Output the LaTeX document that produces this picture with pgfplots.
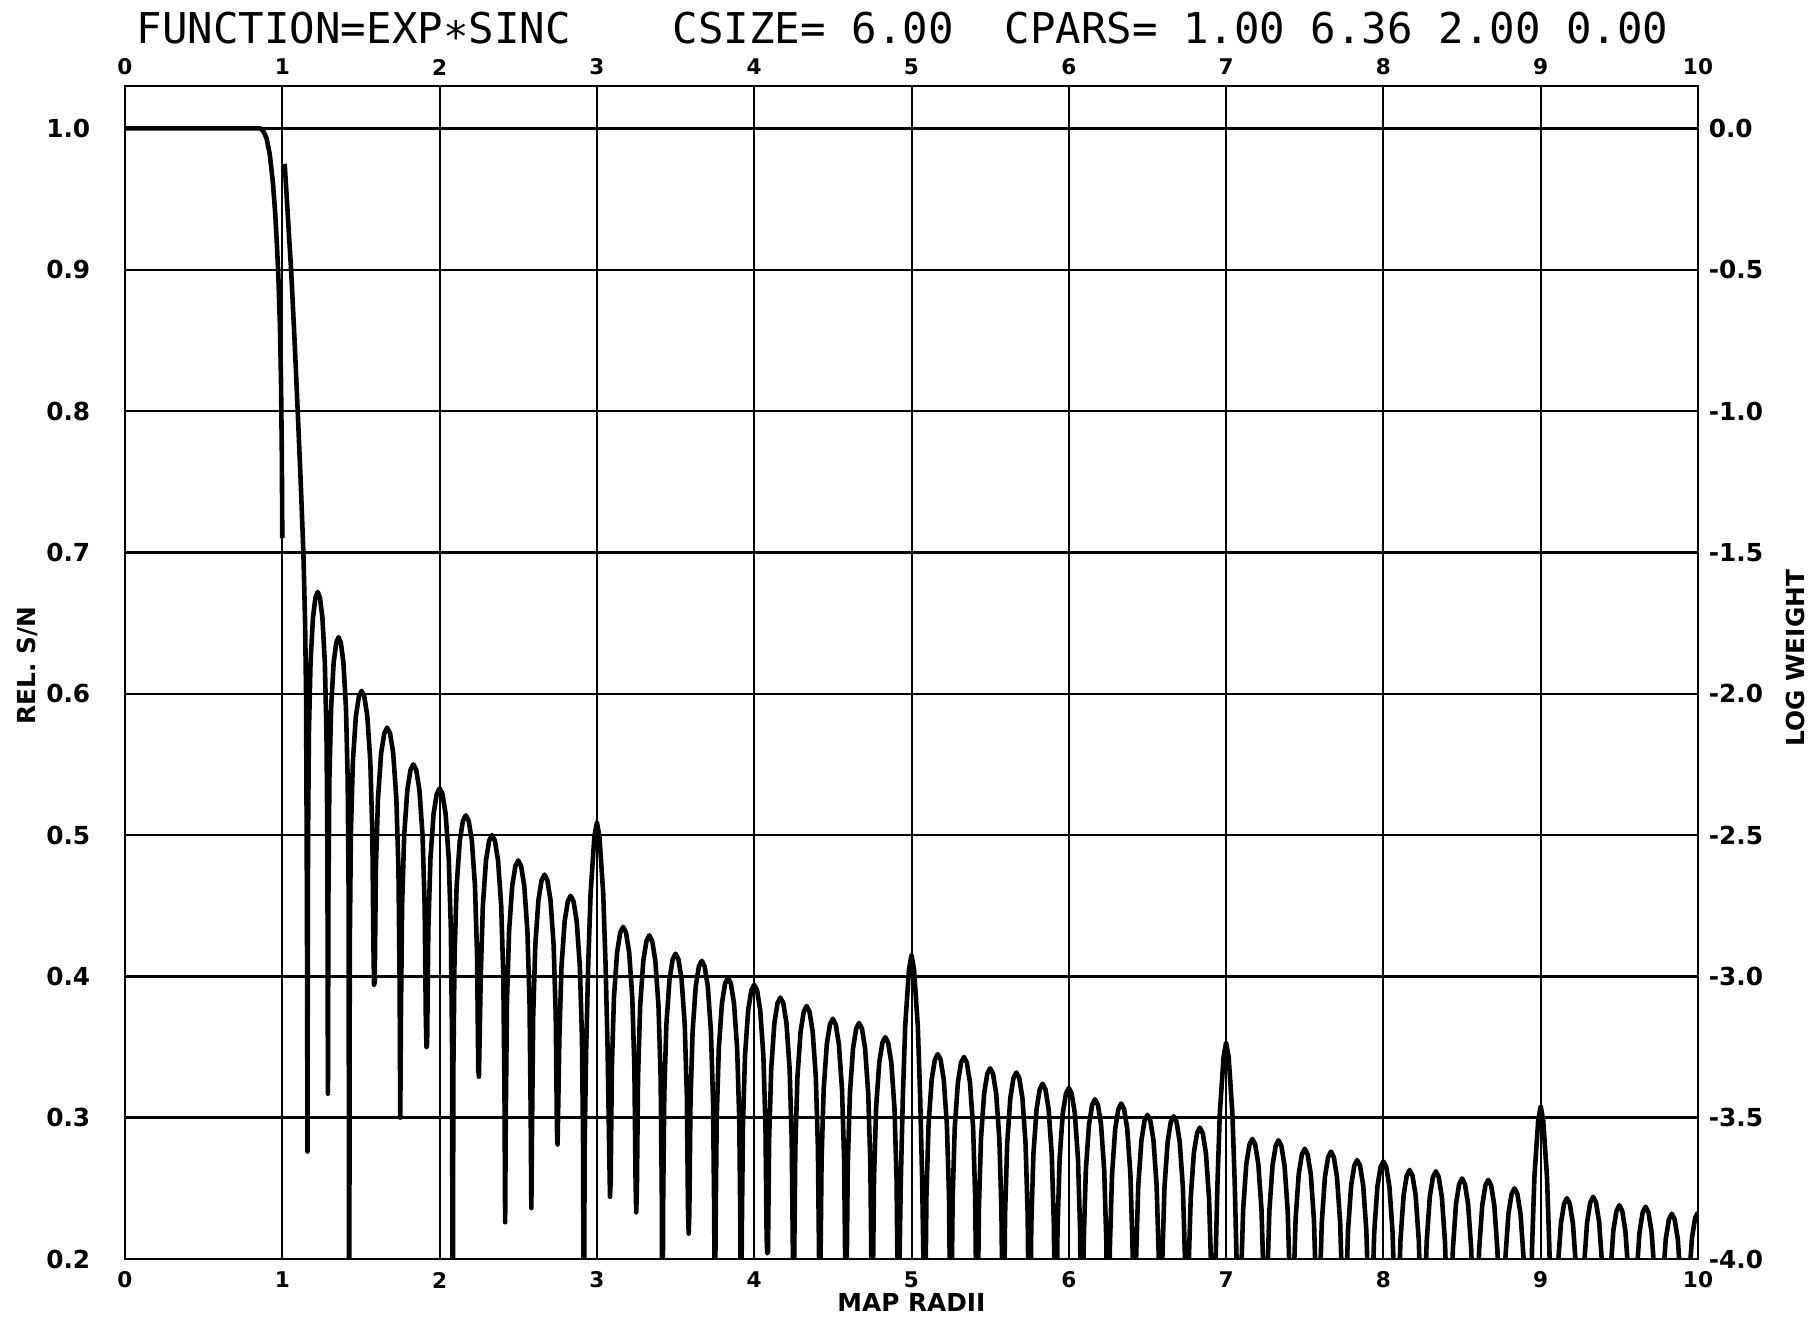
\documentclass[border=0pt]{standalone}
\usepackage{pgfplots}
\pgfplotsset{compat=1.18}
\usepackage{fontspec}
\setmainfont{DejaVu Sans}
\newfontfamily\titlefont{DejaVu Sans Mono}
\newcommand\lrfont{\fontsize{6.2}{7}\selectfont\bfseries}
\newcommand\tbfont{\fontsize{5.4}{6}\selectfont\bfseries}
\begin{document}
\begin{tikzpicture}
\path[use as bounding box] (-31.25pt,-14.75pt) rectangle (421.75pt,314.75pt);
\begin{axis}[
  at={(0,0)}, anchor=south west,
  scale only axis, width=393.25pt, height=293.25pt,
  xmin=0, xmax=10, ymin=0.2, ymax=1.03,
  xtick={0,1,2,3,4,5,6,7,8,9,10},
  xticklabels={0,1,2,3,4,5,6,7,8,9,10},
  ytick={0.2,0.3,0.4,0.5,0.6,0.7,0.8,0.9,1.0},
  yticklabels={0.2,0.3,0.4,0.5,0.6,0.7,0.8,0.9,1.0},
  grid=major,
  x grid style={black, line width=0.5pt},
  y grid style={black, line width=0.6pt},
  major tick length=0pt, tick style={draw=none},
  axis line style={black, line width=0.7pt},
  xticklabel style={font=\tbfont, anchor=center, inner sep=0pt, yshift=-5.25pt},
  yticklabel style={font=\lrfont, anchor=east, inner sep=0pt, xshift=-8.5pt},
  clip=true,
]
% REL. S/N curve
\addplot[black, line width=1.15pt, line join=round] coordinates {
(0,1.0) (0.86,1.0) (0.88,0.998) (0.90,0.993) (0.92,0.982) (0.94,0.962) (0.955,0.94) (0.967,0.915) (0.975,0.895) (0.985,0.86) (0.992,0.82) (0.997,0.77) (1.0,0.71)
};
% LOG WEIGHT curve (plotted on the left scale: left = 1 + logweight/5)
\addplot[black, line width=1.15pt, line join=round] coordinates {
(1.015,0.975) (1.03,0.948) (1.045,0.92) (1.056,0.9) (1.078,0.85) (1.098,0.8) (1.117,0.75) (1.134,0.7) (1.145,0.65) (1.151,0.6) (1.155,0.5) (1.158,0.4) (1.160,0.276)
(1.1633,0.492) (1.1691,0.572) (1.1795,0.622) (1.1951,0.654) (1.2107,0.668) (1.225,0.672) (1.2393,0.668) (1.2549,0.654) (1.2705,0.622) (1.2809,0.572) (1.2868,0.492) (1.29,0.317)
(1.2934,0.460) (1.2995,0.540) (1.3103,0.590) (1.3265,0.622) (1.3427,0.636) (1.3575,0.640) (1.3724,0.636) (1.3886,0.622) (1.4048,0.590) (1.4156,0.540) (1.4216,0.460) (1.425,0.1)
(1.4290,0.422) (1.4361,0.502) (1.4487,0.552) (1.4677,0.584) (1.4867,0.598) (1.5042,0.602) (1.5216,0.598) (1.5406,0.584) (1.5596,0.552) (1.5723,0.502) (1.5794,0.422) (1.5833,0.394)
(1.5875,0.396) (1.5950,0.476) (1.6084,0.526) (1.6284,0.558) (1.6484,0.572) (1.6667,0.576) (1.6850,0.572) (1.7050,0.558) (1.7250,0.526) (1.7384,0.476) (1.7459,0.396) (1.75,0.30)
(1.7541,0.370) (1.7616,0.450) (1.7750,0.500) (1.7950,0.532) (1.8150,0.546) (1.8333,0.550) (1.8516,0.546) (1.8716,0.532) (1.8916,0.500) (1.9050,0.450) (1.9125,0.370) (1.9167,0.350)
(1.9208,0.353) (1.9283,0.433) (1.9417,0.483) (1.9617,0.515) (1.9817,0.529) (2.0,0.533) (2.0183,0.529) (2.0383,0.515) (2.0583,0.483) (2.0717,0.433) (2.0792,0.353) (2.0833,0.1)
(2.0875,0.334) (2.0950,0.414) (2.1084,0.464) (2.1284,0.496) (2.1484,0.510) (2.1667,0.514) (2.1850,0.510) (2.2050,0.496) (2.2250,0.464) (2.2384,0.414) (2.2459,0.334) (2.25,0.329)
(2.2616,0.400) (2.2750,0.450) (2.2950,0.482) (2.3150,0.496) (2.3333,0.500) (2.3516,0.496) (2.3716,0.482) (2.3916,0.450) (2.4050,0.400) (2.4125,0.320) (2.4167,0.226)
(2.4208,0.302) (2.4283,0.382) (2.4417,0.432) (2.4617,0.464) (2.4817,0.478) (2.5,0.482) (2.5183,0.478) (2.5383,0.464) (2.5583,0.432) (2.5717,0.382) (2.5792,0.302) (2.5833,0.236)
(2.5875,0.292) (2.5950,0.372) (2.6084,0.422) (2.6284,0.454) (2.6484,0.468) (2.6667,0.472) (2.6850,0.468) (2.7050,0.454) (2.7250,0.422) (2.7384,0.372) (2.7459,0.292) (2.75,0.281)
(2.7616,0.357) (2.7750,0.407) (2.7950,0.439) (2.8150,0.453) (2.8333,0.457) (2.8516,0.453) (2.8716,0.439) (2.8916,0.407) (2.9050,0.357) (2.9125,0.277) (2.9167,0.1)
(2.922,0.279) (2.932,0.349) (2.945,0.409) (2.960,0.459) (2.984,0.499) (3.0,0.509) (3.016,0.499) (3.040,0.459) (3.055,0.409) (3.068,0.349) (3.078,0.279) (3.0833,0.244)
(3.0875,0.255) (3.0950,0.335) (3.1084,0.385) (3.1284,0.417) (3.1484,0.431) (3.1667,0.435) (3.1850,0.431) (3.2050,0.417) (3.2250,0.385) (3.2384,0.335) (3.2459,0.255) (3.25,0.233)
(3.2541,0.249) (3.2616,0.329) (3.2750,0.379) (3.2950,0.411) (3.3150,0.425) (3.3333,0.429) (3.3516,0.425) (3.3716,0.411) (3.3916,0.379) (3.4050,0.329) (3.4125,0.249) (3.4167,0.1)
(3.4208,0.236) (3.4283,0.316) (3.4417,0.366) (3.4617,0.398) (3.4817,0.412) (3.5,0.416) (3.5183,0.412) (3.5383,0.398) (3.5583,0.366) (3.5717,0.316) (3.5792,0.236) (3.5833,0.218)
(3.5875,0.231) (3.5950,0.311) (3.6084,0.361) (3.6284,0.393) (3.6484,0.407) (3.6667,0.411) (3.6850,0.407) (3.7050,0.393) (3.7250,0.361) (3.7384,0.311) (3.7459,0.231) (3.75,0.1)
(3.7541,0.219) (3.7616,0.299) (3.7750,0.349) (3.7950,0.381) (3.8150,0.395) (3.8333,0.399) (3.8516,0.395) (3.8716,0.381) (3.8916,0.349) (3.9050,0.299) (3.9125,0.219) (3.9167,0.1)
(3.9208,0.214) (3.9283,0.294) (3.9417,0.344) (3.9617,0.376) (3.9817,0.390) (4.0,0.394) (4.0183,0.390) (4.0383,0.376) (4.0583,0.344) (4.0717,0.294) (4.0792,0.214) (4.0833,0.204)
(4.0875,0.205) (4.0950,0.285) (4.1084,0.335) (4.1284,0.367) (4.1484,0.381) (4.1667,0.385) (4.1850,0.381) (4.2050,0.367) (4.2250,0.335) (4.2384,0.285) (4.2459,0.205) (4.25,0.1)
(4.2541,0.199) (4.2616,0.279) (4.2750,0.329) (4.2950,0.361) (4.3150,0.375) (4.3333,0.379) (4.3516,0.375) (4.3716,0.361) (4.3916,0.329) (4.4050,0.279) (4.4125,0.199) (4.4167,0.1)
(4.4208,0.190) (4.4283,0.270) (4.4417,0.320) (4.4617,0.352) (4.4817,0.366) (4.5,0.370) (4.5183,0.366) (4.5383,0.352) (4.5583,0.320) (4.5717,0.270) (4.5792,0.190) (4.5833,0.1)
(4.5875,0.187) (4.5950,0.267) (4.6084,0.317) (4.6284,0.349) (4.6484,0.363) (4.6667,0.367) (4.6850,0.363) (4.7050,0.349) (4.7250,0.317) (4.7384,0.267) (4.7459,0.187) (4.75,0.1)
(4.7541,0.177) (4.7616,0.257) (4.7750,0.307) (4.7950,0.339) (4.8150,0.353) (4.8333,0.357) (4.8516,0.353) (4.8716,0.339) (4.8916,0.307) (4.9050,0.257) (4.9125,0.177) (4.9167,0.1)
(4.922,0.185) (4.932,0.255) (4.945,0.315) (4.960,0.365) (4.984,0.405) (5.0,0.415) (5.016,0.405) (5.040,0.365) (5.055,0.315) (5.068,0.255) (5.078,0.185) (5.0833,0.1)
(5.0875,0.165) (5.0950,0.245) (5.1084,0.295) (5.1284,0.327) (5.1484,0.341) (5.1667,0.345) (5.1850,0.341) (5.2050,0.327) (5.2250,0.295) (5.2384,0.245) (5.2459,0.165) (5.25,0.1)
(5.2541,0.163) (5.2616,0.243) (5.2750,0.293) (5.2950,0.325) (5.3150,0.339) (5.3333,0.343) (5.3516,0.339) (5.3716,0.325) (5.3916,0.293) (5.4050,0.243) (5.4125,0.163) (5.4167,0.1)
(5.4208,0.155) (5.4283,0.235) (5.4417,0.285) (5.4617,0.317) (5.4817,0.331) (5.5,0.335) (5.5183,0.331) (5.5383,0.317) (5.5583,0.285) (5.5717,0.235) (5.5792,0.155) (5.5833,0.1)
(5.5875,0.152) (5.5950,0.232) (5.6084,0.282) (5.6284,0.314) (5.6484,0.328) (5.6667,0.332) (5.6850,0.328) (5.7050,0.314) (5.7250,0.282) (5.7384,0.232) (5.7459,0.152) (5.75,0.1)
(5.7541,0.144) (5.7616,0.224) (5.7750,0.274) (5.7950,0.306) (5.8150,0.320) (5.8333,0.324) (5.8516,0.320) (5.8716,0.306) (5.8916,0.274) (5.9050,0.224) (5.9125,0.144) (5.9167,0.1)
(5.9208,0.141) (5.9283,0.221) (5.9417,0.271) (5.9617,0.303) (5.9817,0.317) (6.0,0.321) (6.0183,0.317) (6.0383,0.303) (6.0583,0.271) (6.0717,0.221) (6.0792,0.141) (6.0833,0.1)
(6.0875,0.133) (6.0950,0.213) (6.1084,0.263) (6.1284,0.295) (6.1484,0.309) (6.1667,0.313) (6.1850,0.309) (6.2050,0.295) (6.2250,0.263) (6.2384,0.213) (6.2459,0.133) (6.25,0.1)
(6.2541,0.130) (6.2616,0.210) (6.2750,0.260) (6.2950,0.292) (6.3150,0.306) (6.3333,0.310) (6.3516,0.306) (6.3716,0.292) (6.3916,0.260) (6.4050,0.210) (6.4125,0.130) (6.4167,0.1)
(6.4208,0.122) (6.4283,0.202) (6.4417,0.252) (6.4617,0.284) (6.4817,0.298) (6.5,0.302) (6.5183,0.298) (6.5383,0.284) (6.5583,0.252) (6.5717,0.202) (6.5792,0.122) (6.5833,0.1)
(6.5875,0.121) (6.5950,0.201) (6.6084,0.251) (6.6284,0.283) (6.6484,0.297) (6.6667,0.301) (6.6850,0.297) (6.7050,0.283) (6.7250,0.251) (6.7384,0.201) (6.7459,0.121) (6.75,0.1)
(6.7616,0.193) (6.7750,0.243) (6.7950,0.275) (6.8150,0.289) (6.8333,0.293) (6.8516,0.289) (6.8716,0.275) (6.8916,0.243) (6.9050,0.193) (6.9167,0.1)
(6.932,0.193) (6.945,0.253) (6.960,0.303) (6.984,0.343) (7.0,0.353) (7.016,0.343) (7.040,0.303) (7.055,0.253) (7.068,0.193) (7.0833,0.1)
(7.0950,0.185) (7.1084,0.235) (7.1284,0.267) (7.1484,0.281) (7.1667,0.285) (7.1850,0.281) (7.2050,0.267) (7.2250,0.235) (7.2384,0.185) (7.25,0.1)
(7.2616,0.184) (7.2750,0.234) (7.2950,0.266) (7.3150,0.280) (7.3333,0.284) (7.3516,0.280) (7.3716,0.266) (7.3916,0.234) (7.4050,0.184) (7.4167,0.1)
(7.4283,0.178) (7.4417,0.228) (7.4617,0.260) (7.4817,0.274) (7.5,0.278) (7.5183,0.274) (7.5383,0.260) (7.5583,0.228) (7.5717,0.178) (7.5833,0.1)
(7.5950,0.176) (7.6084,0.226) (7.6284,0.258) (7.6484,0.272) (7.6667,0.276) (7.6850,0.272) (7.7050,0.258) (7.7250,0.226) (7.7384,0.176) (7.75,0.1)
(7.7616,0.170) (7.7750,0.220) (7.7950,0.252) (7.8150,0.266) (7.8333,0.270) (7.8516,0.266) (7.8716,0.252) (7.8916,0.220) (7.9050,0.170) (7.9167,0.1)
(7.9283,0.169) (7.9417,0.219) (7.9617,0.251) (7.9817,0.265) (8.0,0.269) (8.0183,0.265) (8.0383,0.251) (8.0583,0.219) (8.0717,0.169) (8.0833,0.1)
(8.0950,0.163) (8.1084,0.213) (8.1284,0.245) (8.1484,0.259) (8.1667,0.263) (8.1850,0.259) (8.2050,0.245) (8.2250,0.213) (8.2384,0.163) (8.25,0.1)
(8.2616,0.162) (8.2750,0.212) (8.2950,0.244) (8.3150,0.258) (8.3333,0.262) (8.3516,0.258) (8.3716,0.244) (8.3916,0.212) (8.4050,0.162) (8.4167,0.1)
(8.4283,0.157) (8.4417,0.207) (8.4617,0.239) (8.4817,0.253) (8.5,0.257) (8.5183,0.253) (8.5383,0.239) (8.5583,0.207) (8.5717,0.157) (8.5833,0.1)
(8.5950,0.156) (8.6084,0.206) (8.6284,0.238) (8.6484,0.252) (8.6667,0.256) (8.6850,0.252) (8.7050,0.238) (8.7250,0.206) (8.7384,0.156) (8.75,0.1)
(8.7616,0.150) (8.7750,0.200) (8.7950,0.232) (8.8150,0.246) (8.8333,0.250) (8.8516,0.246) (8.8716,0.232) (8.8916,0.200) (8.9050,0.150) (8.9167,0.1)
(8.932,0.148) (8.945,0.208) (8.960,0.258) (8.984,0.298) (9.0,0.308) (9.016,0.298) (9.040,0.258) (9.055,0.208) (9.068,0.148) (9.0833,0.1)
(9.0950,0.143) (9.1084,0.193) (9.1284,0.225) (9.1484,0.239) (9.1667,0.243) (9.1850,0.239) (9.2050,0.225) (9.2250,0.193) (9.2384,0.143) (9.25,0.1)
(9.2616,0.144) (9.2750,0.194) (9.2950,0.226) (9.3150,0.240) (9.3333,0.244) (9.3516,0.240) (9.3716,0.226) (9.3916,0.194) (9.4050,0.144) (9.4167,0.1)
(9.4283,0.138) (9.4417,0.188) (9.4617,0.220) (9.4817,0.234) (9.5,0.238) (9.5183,0.234) (9.5383,0.220) (9.5583,0.188) (9.5717,0.138) (9.5833,0.1)
(9.5950,0.137) (9.6084,0.187) (9.6284,0.219) (9.6484,0.233) (9.6667,0.237) (9.6850,0.233) (9.7050,0.219) (9.7250,0.187) (9.7384,0.137) (9.75,0.1)
(9.7616,0.132) (9.7750,0.182) (9.7950,0.214) (9.8150,0.228) (9.8333,0.232) (9.8516,0.228) (9.8716,0.214) (9.8916,0.182) (9.9050,0.132) (9.9167,0.1)
(9.9283,0.133) (9.9417,0.183) (9.9617,0.215) (9.9817,0.229) (10.0,0.233)
};
\end{axis}
\begin{axis}[
  at={(0,0)}, anchor=south west,
  scale only axis, width=393.25pt, height=293.25pt,
  xmin=0, xmax=10, ymin=-4, ymax=0.15,
  axis x line*=top, axis y line*=right,
  axis line style={black, line width=0.7pt, -},
  xtick={0,1,2,3,4,5,6,7,8,9,10},
  xticklabels={0,1,2,3,4,5,6,7,8,9,10},
  ytick={-4,-3.5,-3,-2.5,-2,-1.5,-1,-0.5,0},
  yticklabels={-4.0,-3.5,-3.0,-2.5,-2.0,-1.5,-1.0,-0.5,0.0},
  major tick length=0pt, tick style={draw=none},
  xticklabel style={font=\tbfont, anchor=center, inner sep=0pt, yshift=4.75pt},
  yticklabel style={font=\lrfont, anchor=west, inner sep=0pt, xshift=2.5pt},
]
\end{axis}
\node[anchor=base west, inner sep=0pt, font=\titlefont\fontsize{10.6}{12}\selectfont] at (2.75pt,303.75pt)
  {FUNCTION=EXP∗SINC\ \ \ \ CSIZE=\ 6.00\ \ CPARS=\ 1.00\ 6.36\ 2.00\ 0.00};
\node[rotate=90, inner sep=0pt, font=\lrfont] at (-24.5pt,148.4pt) {REL. S/N};
\node[rotate=90, inner sep=0pt, font=\lrfont] at (417.5pt,150.2pt) {LOG WEIGHT};
\node[inner sep=0pt, font=\lrfont] at (196.6pt,-10.75pt) {MAP RADII};
\end{tikzpicture}
\end{document}
